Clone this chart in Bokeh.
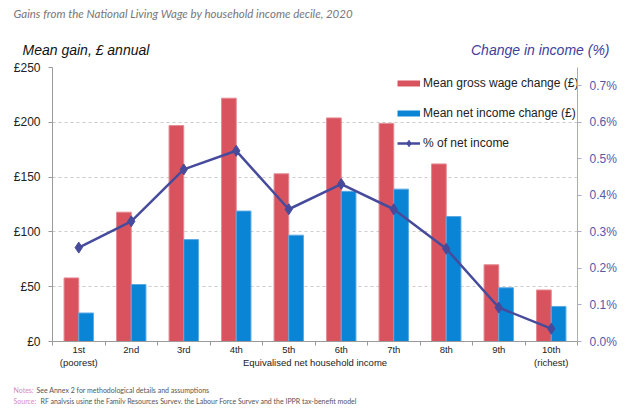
import numpy as np
from bokeh.plotting import figure
from bokeh.layouts import column, row
from bokeh.models import (Range1d, LinearAxis, FixedTicker, PrintfTickFormatter,
                          Label, Legend, LegendItem)
from bokeh.embed import file_html
from bokeh.resources import INLINE

# ---- data ----
deciles = ["1st\n(poorest)", "2nd", "3rd", "4th", "5th", "6th", "7th", "8th", "9th", "10th\n(richest)"]
gross_wage = [58, 118, 197, 222, 153, 204, 199, 162, 70, 47]
net_income = [26, 52, 93, 119, 97, 137, 139, 114, 49, 32]
pct_net = [0.257, 0.329, 0.471, 0.522, 0.362, 0.431, 0.362, 0.254, 0.093, 0.035]
left_ticks = [0, 50, 100, 150, 200, 250]
right_ticks = [0.0, 0.1, 0.2, 0.3, 0.4, 0.5, 0.6, 0.7]
x_title = "Equivalised net household income"

RED = "#d9535f"
BLUE = "#0a84d5"
LINE = "#474b9b"
FONT = "Liberation Sans"
W = 624

def tlab(fig, x, y, text, **kw):
    opts = dict(text_baseline="middle")
    opts.update(kw)
    fig.add_layout(Label(x=x, y=y, text=text, **opts))

# ---------- header strip (titles) ----------
H_TOP = 58
top = figure(width=W, height=H_TOP, output_backend="svg", toolbar_location=None,
             x_range=Range1d(0, W), y_range=Range1d(H_TOP, 0),
             x_axis_type=None, y_axis_type=None, min_border=0)
top.outline_line_color = None
top.grid.visible = False
tlab(top, 13, 13, "Gains from the National Living Wage by household income decile, 2020",
     text_font="Lato", text_font_style="italic", text_font_size="11.5px", text_color="#777777")
tlab(top, 22, 49, "Mean gain, £ annual", text_font=FONT, text_font_style="italic",
     text_font_size="14px", text_color="#111111")
tlab(top, 609, 49, "Change in income (%)", text_font=FONT, text_font_style="italic",
     text_font_size="14px", text_color="#3d41a0", text_align="right")

# ---------- main chart ----------
pos = np.arange(1, len(deciles) + 1)
H_MAIN = 320
p = figure(width=W, height=H_MAIN, output_backend="svg", toolbar_location=None,
           x_range=Range1d(0.5, len(deciles) + 0.5), y_range=Range1d(0, 250),
           min_border_left=52, min_border_right=47, min_border_top=9, min_border_bottom=37)
p.outline_line_color = None
p.extra_y_ranges = {"pct": Range1d(0, 0.75)}

bw = 0.28
p.vbar(x=pos - bw / 2, top=gross_wage, width=bw, fill_color=RED, line_color="#e48a92", line_width=1)
p.vbar(x=pos + bw / 2, top=net_income, width=bw, fill_color=BLUE, line_color="#5aa9e2", line_width=1)
p.line(x=pos, y=pct_net, y_range_name="pct", line_color=LINE, line_width=2.5)
p.scatter(x=pos, y=pct_net, y_range_name="pct", marker="diamond", size=11,
          fill_color=LINE, line_color=LINE)

mid = (len(deciles) + 1) / 2
xa = p.xaxis[0]
xa.ticker = FixedTicker(ticks=list(pos) + [mid],
                        minor_ticks=list(np.arange(0.5, len(deciles) + 1, 1.0)))
overrides = {int(k): lab for k, lab in zip(pos, deciles)}
overrides[mid] = " \n" + x_title
xa.major_label_overrides = overrides
xa.major_tick_line_color = None
xa.major_tick_out = 0
xa.major_tick_in = 0
xa.minor_tick_out = 4
xa.minor_tick_in = 0
xa.minor_tick_line_color = "#9a9a9a"
xa.axis_line_color = "#9a9a9a"
xa.major_label_text_font = FONT
xa.major_label_text_font_size = "9.5px"
xa.major_label_text_color = "#222222"
xa.major_label_standoff = -2

ya = p.yaxis[0]
ya.ticker = FixedTicker(ticks=left_ticks)
ya.formatter = PrintfTickFormatter(format="£%d")
ya.axis_line_color = "#9a9a9a"
ya.major_tick_line_color = "#9a9a9a"
ya.major_tick_out = 4
ya.major_tick_in = 0
ya.minor_tick_line_color = None
ya.major_label_text_font = FONT
ya.major_label_text_font_size = "12px"
ya.major_label_text_color = "#222222"
ya.major_label_standoff = 8

ra = LinearAxis(y_range_name="pct", ticker=FixedTicker(ticks=right_ticks),
                formatter=PrintfTickFormatter(format="%.1f%%"))
ra.axis_line_color = "#a9a9d6"
ra.major_tick_line_color = "#a9a9d6"
ra.major_tick_out = 4
ra.major_tick_in = 0
ra.minor_tick_line_color = None
ra.major_label_text_font = FONT
ra.major_label_text_font_size = "12px"
ra.major_label_text_color = "#5559aa"
ra.major_label_standoff = 8
p.add_layout(ra, "right")

p.xgrid.grid_line_color = None
p.ygrid.ticker = FixedTicker(ticks=left_ticks)
p.ygrid.grid_line_color = "#cccccc"
p.ygrid.grid_line_dash = "3 3"

nan = [float("nan")]
lr = p.line(x=nan, y=nan, line_color=RED, line_width=6)
lb = p.line(x=nan, y=nan, line_color=BLUE, line_width=6)
ll = p.line(x=nan, y=nan, line_color=LINE, line_width=2.5)
ls = p.scatter(x=nan, y=nan, marker="diamond", size=9, fill_color=LINE, line_color=LINE)
legend = Legend(items=[LegendItem(label="Mean gross wage change (£)", renderers=[lr]),
                       LegendItem(label="Mean net income change (£)", renderers=[lb]),
                       LegendItem(label="% of net income", renderers=[ll, ls])],
                location=(345, 190), orientation="vertical")
legend.border_line_color = None
legend.background_fill_alpha = 0
legend.padding = 4
legend.margin = 0
legend.spacing = 14
legend.glyph_width = 23
legend.glyph_height = 16
legend.label_height = 16
legend.label_standoff = 3
legend.label_text_font = FONT
legend.label_text_font_size = "12px"
legend.label_text_color = "#222222"
p.add_layout(legend, "center")

# ---------- footer strip (notes) ----------
Y0 = H_TOP + H_MAIN
H_BOT = 404 - Y0
bot = figure(width=W, height=H_BOT, output_backend="svg", toolbar_location=None,
             x_range=Range1d(0, W), y_range=Range1d(Y0 + H_BOT, Y0),
             x_axis_type=None, y_axis_type=None, min_border=0)
bot.outline_line_color = None
bot.grid.visible = False
tlab(bot, 13, 389, "Notes:", text_font="Lato", text_font_size="7px", text_color="#d887c4")
tlab(bot, 36, 389, "See Annex 2 for methodological details and assumptions", text_font="Lato",
     text_font_size="7px", text_color="#555555")
tlab(bot, 13, 400, "Source:", text_font="Lato", text_font_size="7px", text_color="#d887c4")
tlab(bot, 40, 400, "RF analysis using the Family Resources Survey, the Labour Force Survey and the IPPR tax-benefit model",
     text_font="Lato", text_font_size="7px", text_color="#555555")

page = column(row(top), p, row(bot), spacing=0)
open("out.html", "w").write(file_html(page, INLINE))
